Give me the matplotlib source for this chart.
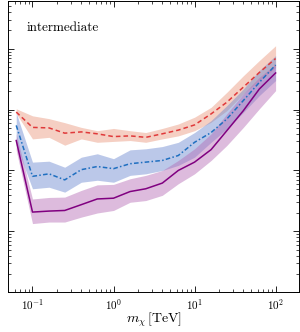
import numpy as np
import matplotlib
matplotlib.use('Agg')
import matplotlib.pyplot as plt

plt.rcParams['mathtext.fontset'] = 'cm'
plt.rcParams['font.family'] = 'serif'
plt.rcParams['font.serif'] = ['cmr10', 'DejaVu Serif']
plt.rcParams['axes.formatter.use_mathtext'] = True

# masses (TeV)
m = [0.063, 0.1, 0.16, 0.25, 0.4, 0.63, 1.0, 1.6, 2.5, 4.0, 6.3, 10, 16, 25, 40, 63, 100]

# red dashed
red = [9.1e-25, 5.1e-25, 5.0e-25, 4.1e-25, 4.3e-25, 4.0e-25, 3.6e-25, 3.7e-25, 3.5e-25,
       4.0e-25, 4.6e-25, 5.6e-25, 8.5e-25, 1.32e-24, 2.34e-24, 4.07e-24, 6.9e-24]
red_hi = [1.03e-24, 7.9e-25, 7.1e-25, 6.1e-25, 5.1e-25, 4.5e-25, 4.9e-25, 4.5e-25, 4.2e-25,
          4.9e-25, 5.8e-25, 7.5e-25, 1.09e-24, 1.92e-24, 3.6e-24, 6.4e-24, 1.12e-23]
red_lo = [8.6e-25, 3.3e-25, 3.5e-25, 2.6e-25, 3.3e-25, 2.9e-25, 3.0e-25, 3.1e-25, 2.9e-25,
          3.3e-25, 3.7e-25, 4.5e-25, 6.2e-25, 9.6e-25, 1.81e-24, 3.0e-24, 4.9e-24]

# blue dash-dot
blue = [5.5e-25, 8.0e-26, 8.8e-26, 7.0e-26, 1.03e-25, 1.16e-25, 1.07e-25, 1.29e-25, 1.37e-25,
        1.46e-25, 1.76e-25, 2.9e-25, 4.2e-25, 7.0e-25, 1.41e-24, 2.8e-24, 5.4e-24]
blue_hi = [8.9e-25, 1.37e-25, 1.42e-25, 1.13e-25, 1.65e-25, 1.88e-25, 1.56e-25, 2.18e-25, 2.27e-25,
           2.47e-25, 2.9e-25, 4.2e-25, 6.6e-25, 1.16e-24, 2.18e-24, 4.4e-24, 7.7e-24]
blue_lo = [2.6e-25, 5.0e-26, 5.3e-26, 4.4e-26, 6.4e-26, 6.9e-26, 6.4e-26, 8.3e-26, 8.8e-26,
           1.0e-25, 1.21e-25, 1.65e-25, 2.9e-25, 4.8e-25, 9.0e-25, 1.70e-24, 3.0e-24]

# purple solid
purp = [3.1e-25, 2.07e-26, 2.15e-26, 2.2e-26, 2.74e-26, 3.4e-26, 3.5e-26, 4.5e-26, 5.0e-26,
        6.2e-26, 1.0e-25, 1.37e-25, 2.2e-25, 4.5e-25, 9.6e-25, 2.18e-24, 4.0e-24]
purp_hi = [4.0e-25, 3.4e-26, 3.6e-26, 3.65e-26, 4.7e-26, 5.8e-26, 5.9e-26, 7.3e-26, 8.3e-26,
           1.0e-25, 1.46e-25, 2.27e-25, 4.0e-25, 8.5e-25, 1.81e-24, 3.4e-24, 5.6e-24]
purp_lo = [2.13e-25, 1.34e-26, 1.42e-26, 1.42e-26, 1.71e-26, 2.0e-26, 2.2e-26, 3.0e-26, 3.2e-26,
           3.9e-26, 6.05e-26, 8.8e-26, 1.46e-25, 2.57e-25, 5.1e-25, 1.03e-24, 2.05e-24]

fig = plt.figure(figsize=(3.0, 3.32), dpi=100)
ax = fig.add_axes([0.027, 0.12, 0.97, 0.878])

ax.fill_between(m, red_lo, red_hi, color='#e9967a', alpha=0.45, lw=0)
ax.fill_between(m, blue_lo, blue_hi, color='#6a86d0', alpha=0.45, lw=0)
ax.fill_between(m, purp_lo, purp_hi, color='#b46ab4', alpha=0.45, lw=0)

ax.plot(m, red, color='#e0393a', ls=(0, (3, 2)), lw=1.1)
ax.plot(m, blue, color='#1f6fc0', ls=(0, (3, 1.5, 1, 1.5)), lw=1.1)
ax.plot(m, purp, color='#800080', ls='-', lw=1.1)

ax.set_xscale('log')
ax.set_yscale('log')
ax.set_xlim(0.05, 195)
ax.set_ylim(1e-27, 10**-22.21)

ax.tick_params(which='both', direction='in', top=True, right=True)
ax.tick_params(which='major', length=4, width=0.6, labelsize=8)
ax.tick_params(which='minor', length=2, width=0.5)
ax.yaxis.set_major_locator(matplotlib.ticker.LogLocator(base=10, numticks=20))
ax.yaxis.set_minor_locator(matplotlib.ticker.LogLocator(base=10, subs=np.arange(2, 10), numticks=20))
ax.tick_params(axis='y', which='both', labelleft=False)
for s in ax.spines.values():
    s.set_linewidth(0.7)

ax.set_xlabel(r'$m_\chi\,[\mathrm{TeV}]$', fontsize=10)
ax.xaxis.set_label_coords(0.5, -0.065)
ax.text(0.065, 0.905, 'intermediate', transform=ax.transAxes, fontsize=9.5,
        va='center', ha='left')

plt.savefig('out.png', dpi=100)
